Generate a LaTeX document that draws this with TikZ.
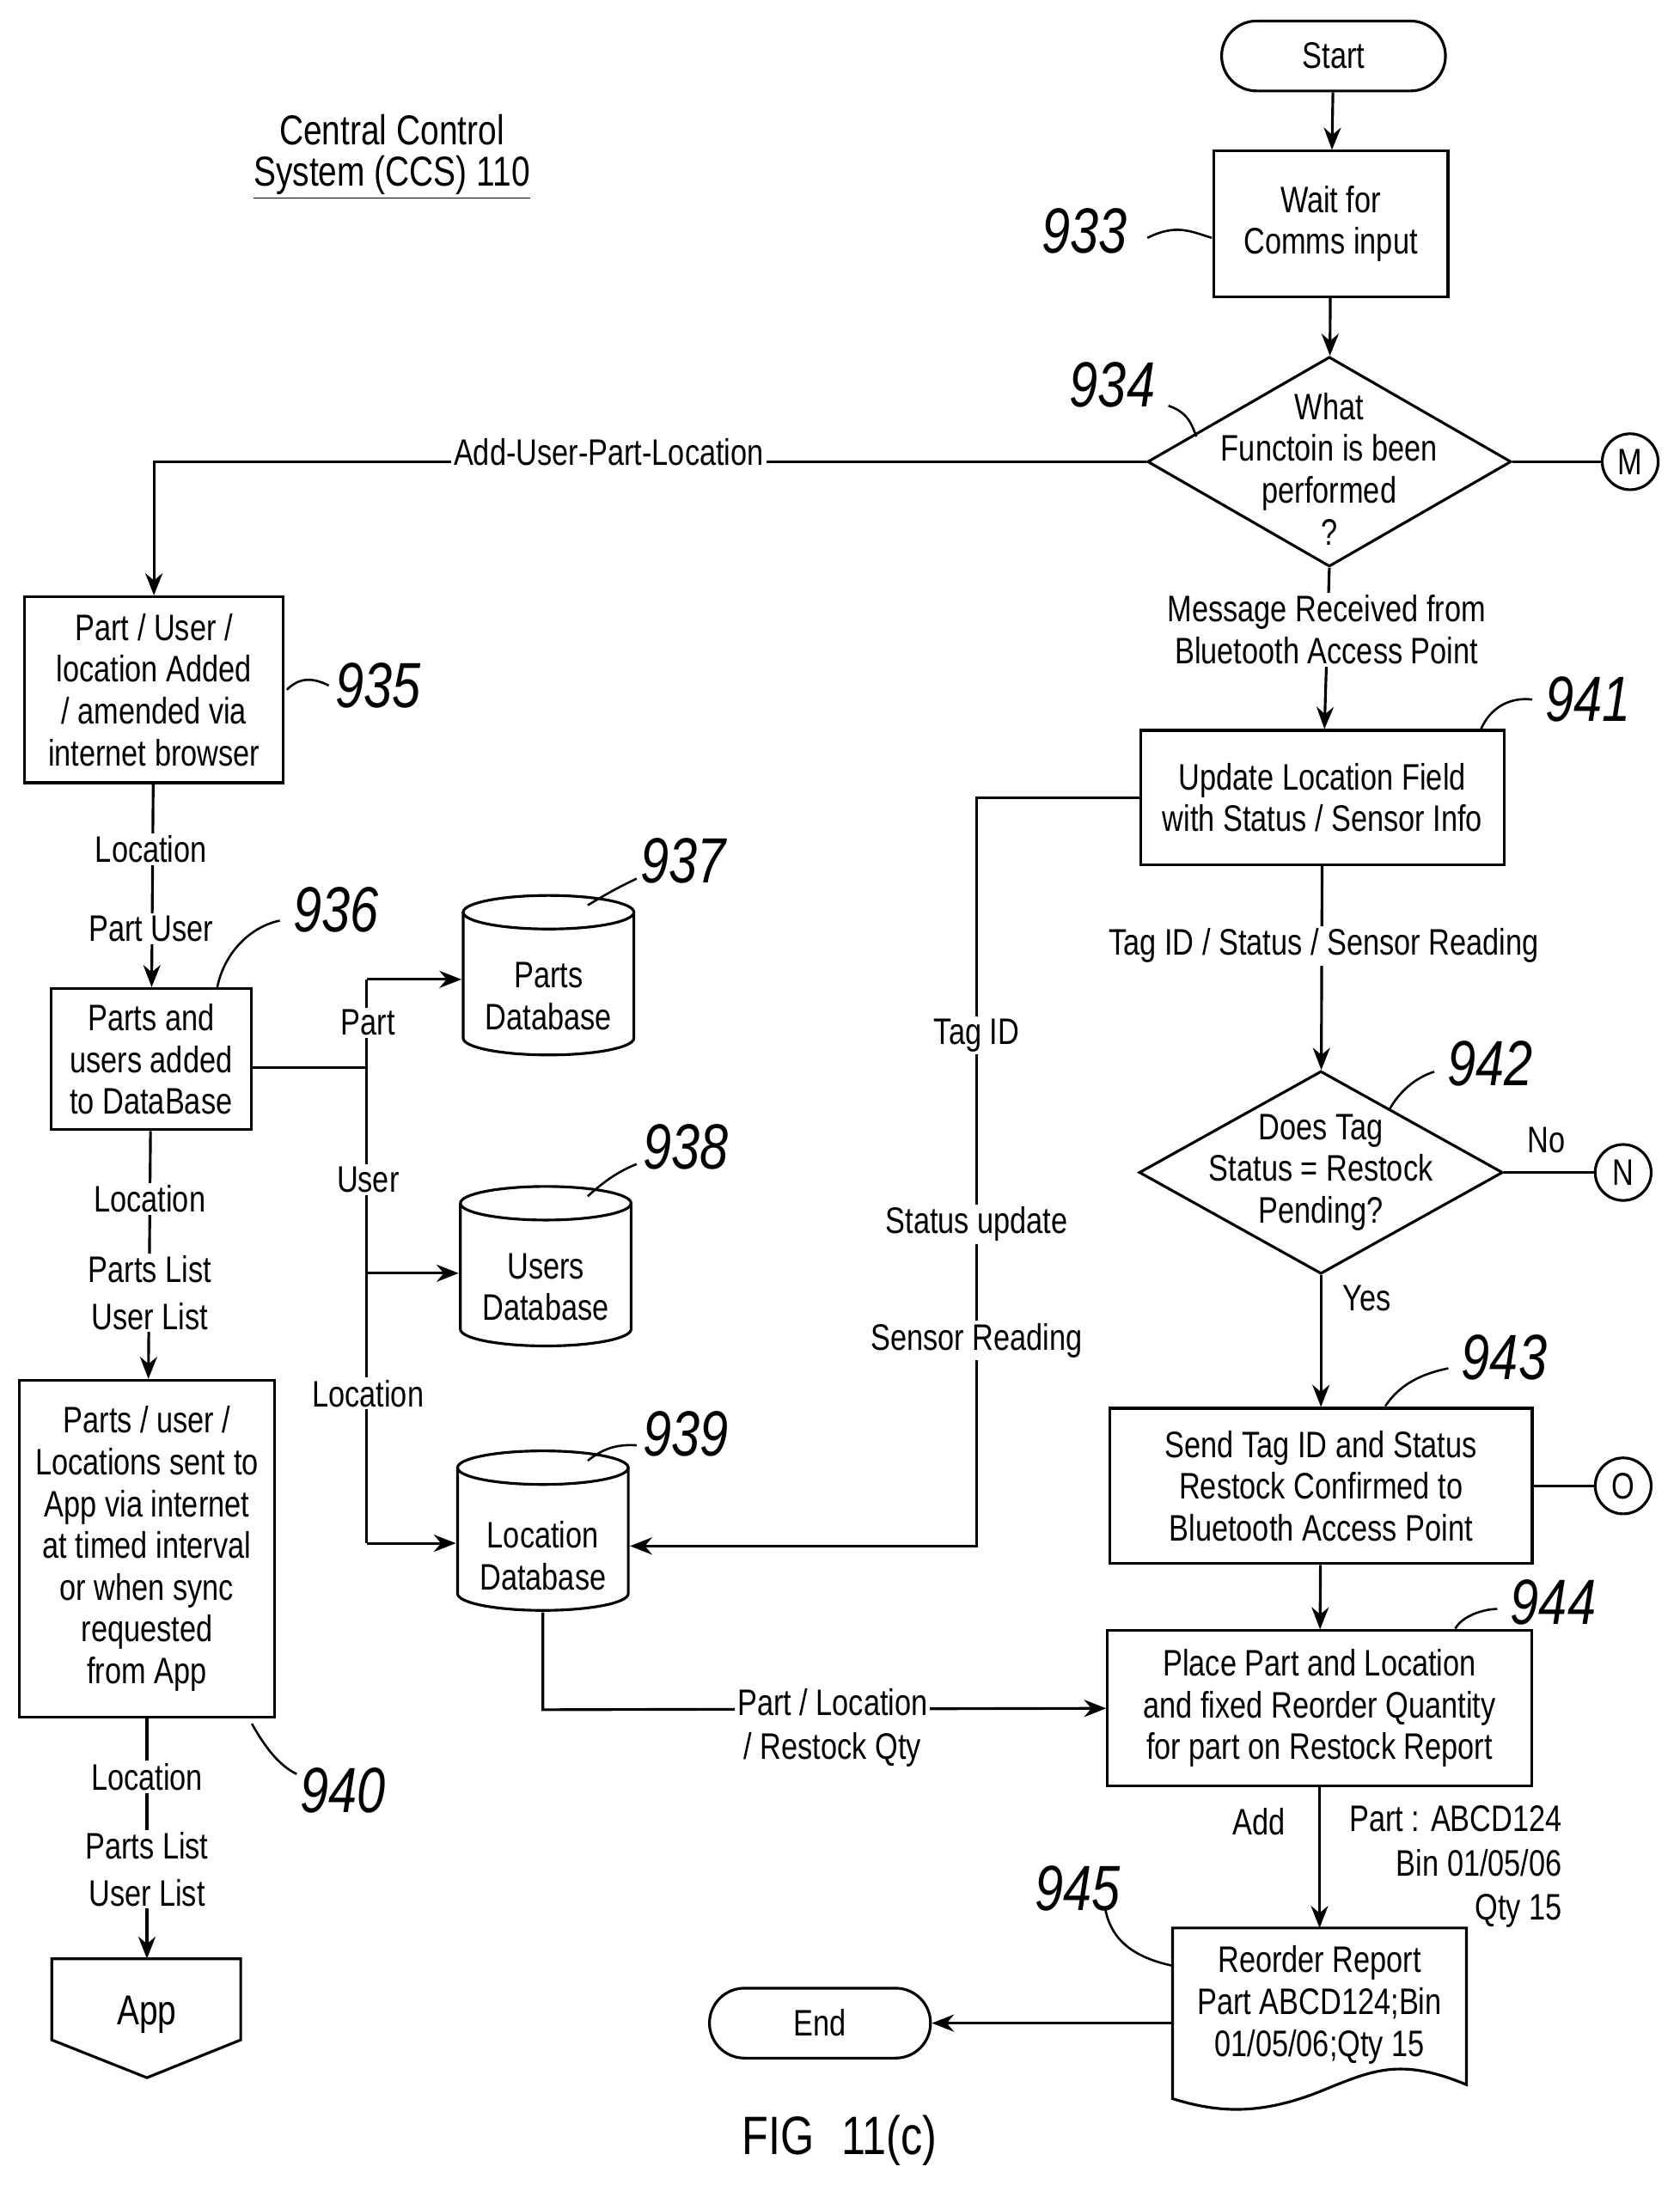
\documentclass[tikz,border=0pt]{standalone}
\usepackage{fontspec}
\setmainfont{Liberation Sans}[FakeStretch=0.8]
\usetikzlibrary{shapes.geometric,arrows.meta}
\begin{document}
\begin{tikzpicture}[x=0.02cm,y=-0.02cm,line width=1.1pt,
 >={Stealth[length=9pt,width=7pt]},
 every node/.style={font=\fontsize{15}{17}\selectfont,align=center,inner sep=1pt},
 box/.style={draw,inner sep=3pt},
 lbl/.style={fill=white,inner sep=1pt},
 num/.style={font=\fontsize{26}{26}\selectfont\itshape},
 cyl/.style={minimum width=2.45cm,minimum height=2.3cm,inner sep=0pt},
 conn/.style={draw,circle,minimum size=0.8cm,inner sep=0pt},
 pics/dbcyl/.style={code={
   \draw (-61,-45) -- (-61,45) arc[start angle=180,end angle=0,x radius=61,y radius=12] -- (61,-45);
   \draw (0,-45) ellipse[x radius=61,y radius=12];}}]
\useasboundingbox (0,0) rectangle (1200,1566);
% title
\node (t1) at (280,93) {\fontsize{17}{19}\selectfont Central Control};
\node (t2) at (280,127) {\fontsize{17}{19}\selectfont\underline{System (CCS) 110}};
% right column
\node[draw,rounded corners=0.5cm,minimum width=3.2cm,minimum height=1cm] (start) at (953,40) {Start};
\node[box,minimum width=3.35cm,minimum height=2.08cm] (b933) at (951,160) {Wait for\\Comms input};
\node[draw,diamond,minimum width=5.2cm,minimum height=3cm,inner sep=0pt] (d934) at (950,330) {};
\node at (950,335) {What\\Functoin is been\\performed\\?};
\node[conn] (M) at (1165,330) {M};
\node[box,minimum width=5.2cm,minimum height=1.92cm] (b941) at (945,570) {Update Location Field\\with Status / Sensor Info};
\node[draw,diamond,minimum width=5.2cm,minimum height=2.9cm,inner sep=0pt] (d942) at (944,838) {};
\node at (944,838) {Does Tag\\Status = Restock\\Pending?};
\node[conn] (N) at (1160,838) {N};
\node[box,minimum width=6.04cm,minimum height=2.22cm] (b943) at (944,1062) {Send Tag ID and Status\\Restock Confirmed to\\Bluetooth Access Point};
\node[conn] (O) at (1160,1062) {O};
\node[box,minimum width=6.06cm,minimum height=2.22cm] (b944) at (943,1221) {Place Part and Location\\and fixed Reorder Quantity\\for part on Restock Report};
\draw (838,1378) -- (1048,1378) -- (1048,1490) .. controls (1000,1470) and (980,1480) .. (943,1495) .. controls (900,1512) and (870,1510) .. (838,1500) -- cycle;
\node (b945) at (943,1433) {Reorder Report\\Part ABCD124;Bin\\01/05/06;Qty 15};
\coordinate (docL) at (838,1446);
\node[draw,rounded corners=0.5cm,minimum width=3.16cm,minimum height=1cm] (end) at (586,1446) {End};
% left column
\node[box,minimum width=3.7cm,minimum height=2.66cm] (b935) at (110,493) {Part / User /\\location Added\\/ amended via\\internet browser};
\node[box,minimum width=2.86cm,minimum height=2.02cm] (b936) at (108,757) {Parts and\\users added\\to DataBase};
\node[box,minimum width=3.64cm,minimum height=4.82cm] (b940) at (105,1107) {Parts / user /\\Locations sent to\\App via internet\\at timed interval\\or when sync\\requested\\from App};
\draw (37,1400) -- (172,1400) -- (172,1458) -- (105,1485) -- (37,1458) -- cycle;
\node (app) at (105,1440) {\fontsize{17}{19}\selectfont App};
\coordinate (appT) at (105,1400);
% cylinders
\pic at (392,697) {dbcyl};
\node[cyl] (parts) at (392,697) {};
\node at (392,712) {Parts\\Database};
\pic at (390,905) {dbcyl};
\node[cyl] (users) at (390,905) {};
\node at (390,920) {Users\\Database};
\pic at (388,1094) {dbcyl};
\node[cyl] (locdb) at (388,1094) {};
\node at (388,1112) {Location\\Database};
% connectors right
\draw[->] (start) -- (b933);
\draw[->] (b933) -- (d934);
\draw (d934.east) -- (M);
\draw[->] (d934.south) -- (b941);
\node[lbl] at (948,450) {Message Received from\\Bluetooth Access Point};
\draw[->] (b941) -- (d942);
\node[lbl] at (946,676) {Tag ID / Status / Sensor Reading};
\draw (d942.east) -- (N);
\node at (1105,815) {No};
\draw[->] (d942.south) -- (b943);
\node at (977,928) {Yes};
\draw (b943) -- (O);
\draw[->] (b943) -- (b944);
\draw[->] (b944) -- (b944.south |- 0,1378);
\node[lbl] at (900,1302) {Add};
\node[align=right,anchor=north east] at (1119,1288) {Part : ABCD124\\[1pt]Bin 01/05/06\\[1pt]Qty 15};
\draw[->] (docL) -- (end);
% add-user line
\draw[->] (d934.west) -- (110,330) -- (b935);
\node[lbl] at (435,323) {Add-User-Part-Location};
\draw[->] (b935) -- (b936);
\node[lbl] at (108,607) {Location};
\node[lbl] at (108,664) {Part User};
\draw[->] (b936) -- (b940);
\node[lbl] at (107,857) {Location};
\node[lbl] at (107,924) {Parts List\\[2pt]User List};
\draw[->] (b940) -- (appT);
\node[lbl] at (105,1270) {Location};
\node[lbl] at (105,1336) {Parts List\\[2pt]User List};
% bus
\draw (b936.east |- 0,763) -- (262,763);
\draw (262,700) -- (262,1103);
\draw[->] (262,700) -- (parts.west |- 0,700);
\draw[->] (262,910) -- (users.west |- 0,910);
\draw[->] (262,1103) -- (locdb.west |- 0,1103);
\node[lbl] at (263,731) {Part};
\node[lbl] at (263,843) {User};
\node[lbl] at (263,996) {Location};
% tag id line
\draw[->] (b941.west) -- (698,570) -- (698,1105) -- (locdb.east |- 0,1105);
\node[lbl] at (698,740) {Tag ID};
\node[lbl] at (698,875) {Status update};
\node[lbl] at (698,958) {Sensor Reading};
\draw[->] (locdb.south) -- (388,1222) -- (b944.west);
\node[lbl] at (595,1235) {Part / Location\\[1pt]/ Restock Qty};
% numbers
\node[num] at (775,165) {933};
\draw[line width=0.9pt] (820,170) .. controls (840,160) and (850,165) .. (866,170);
\node[num] at (795,275) {934};
\draw[line width=0.9pt] (835,290) .. controls (850,295) and (852,305) .. (855,312);
\node[num] at (270,490) {935};
\draw[line width=0.9pt] (205,493) .. controls (215,483) and (225,485) .. (235,490);
\node[num] at (240,650) {936};
\draw[line width=0.9pt] (155,707) .. controls (160,680) and (180,662) .. (200,658);
\node[num] at (488,615) {937};
\draw[line width=0.9pt] (420,647) .. controls (430,641) and (440,635) .. (455,628);
\node[num] at (490,820) {938};
\draw[line width=0.9pt] (420,855) .. controls (430,846) and (440,838) .. (455,832);
\node[num] at (490,1025) {939};
\draw[line width=0.9pt] (420,1044) .. controls (430,1036) and (440,1032) .. (455,1033);
\node[num] at (245,1280) {940};
\draw[line width=0.9pt] (180,1232) .. controls (190,1250) and (200,1262) .. (212,1268);
\node[num] at (1135,500) {941};
\draw[line width=0.9pt] (1058,522) .. controls (1065,505) and (1080,498) .. (1095,500);
\node[num] at (1065,760) {942};
\draw[line width=0.9pt] (993,793) .. controls (1000,780) and (1012,770) .. (1025,766);
\node[num] at (1075,970) {943};
\draw[line width=0.9pt] (990,1005) .. controls (1000,990) and (1015,982) .. (1035,978);
\node[num] at (1110,1145) {944};
\draw[line width=0.9pt] (1040,1164) .. controls (1045,1155) and (1060,1150) .. (1070,1150);
\node[num] at (770,1350) {945};
\draw[line width=0.9pt] (790,1365) .. controls (795,1390) and (815,1400) .. (838,1405);
\node at (600,1530) {\fontsize{22}{24}\selectfont FIG\enspace 11(c)};
\end{tikzpicture}
\end{document}
